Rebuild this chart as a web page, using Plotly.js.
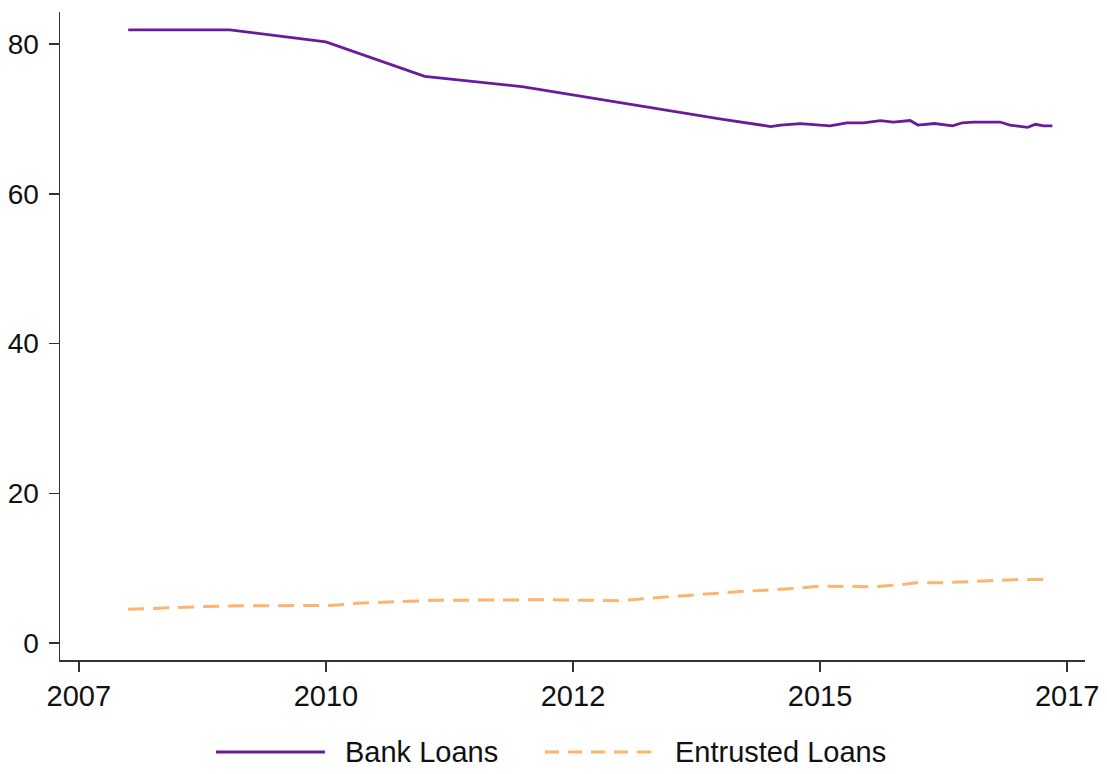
<!DOCTYPE html>
<html>
<head>
<meta charset="utf-8">
<script src="https://cdn.plot.ly/plotly-3.0.1.min.js"></script>
<style>html,body{margin:0;padding:0;background:#fff;}#chart{width:1107px;height:774px;}</style>
</head>
<body>
<div id="chart"></div>
<script>
// Bank Loans share (%)
const bankYears = [2008.0, 2009.03, 2010.0, 2011.0, 2012.0, 2013.0, 2014.0, 2014.5, 2014.6, 2014.8, 2015.1, 2015.27, 2015.44, 2015.61, 2015.74, 2015.91, 2015.99, 2016.16, 2016.34, 2016.44, 2016.55, 2016.82, 2016.92, 2017.10, 2017.18, 2017.26, 2017.35];
const bankValues = [81.9, 81.9, 80.3, 75.7, 74.3, 72.1, 70.0, 69.0, 69.2, 69.4, 69.1, 69.5, 69.5, 69.8, 69.6, 69.8, 69.2, 69.4, 69.1, 69.5, 69.6, 69.6, 69.2, 68.9, 69.3, 69.1, 69.1];
// Entrusted Loans share (%)
const entrustedYears = [2008.0, 2008.72, 2009.23, 2010.04, 2010.31, 2010.82, 2011.08, 2012.24, 2012.98, 2013.25, 2013.48, 2013.71, 2013.96, 2014.22, 2014.49, 2014.77, 2015.0, 2015.27, 2015.51, 2015.78, 2015.98, 2016.25, 2016.52, 2016.75, 2017.02, 2017.31];
const entrustedValues = [4.5, 4.85, 4.99, 5.0, 5.3, 5.6, 5.7, 5.78, 5.65, 5.96, 6.2, 6.4, 6.7, 6.9, 7.08, 7.3, 7.6, 7.6, 7.5, 7.74, 8.05, 8.05, 8.2, 8.3, 8.5, 8.5];
// Axis ticks
const xTickVals = [2007.5, 2010, 2012.5, 2015, 2017.5];
const xTickText = ["2007", "2010", "2012", "2015", "2017"];
const yTickVals = [0, 20, 40, 60, 80];
const seriesNames = ["Bank Loans", "Entrusted Loans"];
const seriesColors = ["#6a1b9a", "#fdb46e"];

const FONT = "Liberation Sans, Arial, sans-serif";

const traces = [
  {x: bankYears, y: bankValues, type: "scatter", mode: "lines", name: seriesNames[0],
   line: {color: seriesColors[0], width: 2.8}},
  {x: entrustedYears, y: entrustedValues, type: "scatter", mode: "lines", name: seriesNames[1],
   line: {color: seriesColors[1], width: 3, dash: "16px,9px"}}
];

// custom legend below the plot (paper coordinates)
const legY = -0.142;
const legend = [
  {x0: 0.1522, x1: 0.2585, tx: 0.2761},
  {x0: 0.4732, x1: 0.5805, tx: 0.598}
];
const shapes = legend.map((l, i) => ({
  type: "line", xref: "paper", yref: "paper", x0: l.x0, x1: l.x1, y0: legY, y1: legY,
  line: {color: seriesColors[i], width: i === 1 ? 3 : 2.8, dash: i === 1 ? "14px,9px" : "solid"}
}));
const annotations = legend.map((l, i) => ({
  xref: "paper", yref: "paper", x: l.tx, y: legY, xanchor: "left", yanchor: "middle",
  text: seriesNames[i], showarrow: false, font: {family: FONT, size: 29, color: "#111"}
}));

const layout = {
  width: 1107, height: 774,
  margin: {l: 60, r: 22, t: 12, b: 114},
  paper_bgcolor: "#fff", plot_bgcolor: "#fff",
  font: {family: FONT, size: 29, color: "#111"},
  showlegend: false,
  shapes: shapes,
  annotations: annotations,
  xaxis: {range: [2007.31, 2017.68], tickmode: "array", tickvals: xTickVals, ticktext: xTickText,
          automargin: false,
          showgrid: false, zeroline: false, showline: true, linecolor: "#333", linewidth: 1.5,
          ticks: "outside", ticklen: 10, tickwidth: 1.5, tickcolor: "#333",
          tickfont: {family: FONT, size: 29, color: "#111"}},
  yaxis: {range: [-2.27, 84.3], tickmode: "array", tickvals: yTickVals,
          automargin: false, ticklabelstandoff: 4,
          showgrid: false, zeroline: false, showline: true, linecolor: "#333", linewidth: 1.5,
          ticks: "outside", ticklen: 10, tickwidth: 1.5, tickcolor: "#333",
          tickfont: {family: FONT, size: 28, color: "#111"}}
};

Plotly.newPlot("chart", traces, layout, {displayModeBar: false, staticPlot: true});
</script>
</body>
</html>
